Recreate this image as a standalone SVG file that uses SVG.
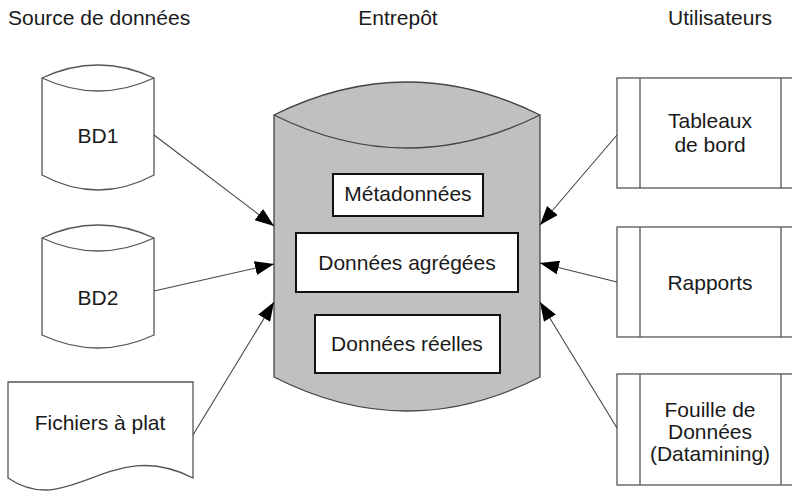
<svg xmlns="http://www.w3.org/2000/svg" width="792" height="492" viewBox="0 0 792 492">
<style>
text{font-family:"Liberation Sans",Arial,sans-serif;font-size:21px;fill:#1a1a1a;text-anchor:middle}
.t{text-anchor:start}
.shape{fill:#fff;stroke:#555;stroke-width:1.3}
.cyl{fill:#c0c0c0;stroke:#444;stroke-width:1.3}
.box{fill:#fff;stroke:#111;stroke-width:2}
.conn line{stroke:#444;stroke-width:1.1;marker-end:url(#ah)}
</style>
<defs>
<marker id="ah" markerUnits="userSpaceOnUse" markerWidth="20" markerHeight="14" refX="19" refY="7" orient="auto">
<path d="M0,0 L19,7 L0,14 Z" fill="#000"/>
</marker>
</defs>
<g id="titles">
<text class="t" x="8" y="25">Source de données</text>
<text x="398" y="25">Entrepôt</text>
<text x="720" y="25">Utilisateurs</text>
</g>
<g id="bd1">
<path class="shape" d="M42,78 Q98,52 154,78 L154,175 Q98,205 42,175 Z"/>
<path class="shape" fill="none" d="M42,78 Q98,104 154,78"/>
<text x="98" y="143">BD1</text>
</g>
<g id="bd2">
<path class="shape" d="M42,238 Q98,212 154,238 L154,335 Q98,361 42,335 Z"/>
<path class="shape" fill="none" d="M42,238 Q98,264 154,238"/>
<text x="98" y="305">BD2</text>
</g>
<g id="fichiers">
<path class="shape" d="M8,382 L193,382 L193,478 C110,435 70,520 8,478 Z"/>
<text x="100" y="430">Fichiers à plat</text>
</g>
<g id="entrepot">
<path class="cyl" d="M274,115 Q407,49 540,115 L540,377 Q407,445 274,377 Z"/>
<path class="cyl" fill="none" d="M274,115 Q407,181 540,115"/>
</g>
<g id="metadonnees">
<rect class="box" x="333" y="174" width="150" height="42"/>
<text x="408" y="201">Métadonnées</text>
</g>
<g id="agregees">
<rect class="box" x="296" y="233" width="222" height="59"/>
<text x="407" y="270">Données agrégées</text>
</g>
<g id="reelles">
<rect class="box" x="315" y="315" width="185" height="58"/>
<text x="407" y="351">Données réelles</text>
</g>
<g id="tableaux">
<rect class="shape" x="617" y="78" width="190" height="110"/>
<line class="shape" x1="640" y1="78" x2="640" y2="188"/>
<line class="shape" x1="781" y1="78" x2="781" y2="188"/>
<text x="710" y="128">Tableaux</text>
<text x="710" y="152">de bord</text>
</g>
<g id="rapports">
<rect class="shape" x="617" y="227" width="190" height="110"/>
<line class="shape" x1="640" y1="227" x2="640" y2="337"/>
<line class="shape" x1="781" y1="227" x2="781" y2="337"/>
<text x="710" y="290">Rapports</text>
</g>
<g id="fouille">
<rect class="shape" x="617" y="374" width="190" height="111"/>
<line class="shape" x1="640" y1="374" x2="640" y2="485"/>
<line class="shape" x1="781" y1="374" x2="781" y2="485"/>
<text x="710" y="417">Fouille de</text>
<text x="710" y="439">Données</text>
<text x="710" y="461">(Datamining)</text>
</g>
<g class="conn" id="connectors">
<line x1="154" y1="135" x2="274" y2="226"/>
<line x1="154" y1="291" x2="274" y2="264"/>
<line x1="193" y1="435" x2="274" y2="302"/>
<line x1="617" y1="135" x2="540" y2="225"/>
<line x1="617" y1="282" x2="540" y2="263"/>
<line x1="617" y1="428" x2="540" y2="302"/>
</g>
</svg>
